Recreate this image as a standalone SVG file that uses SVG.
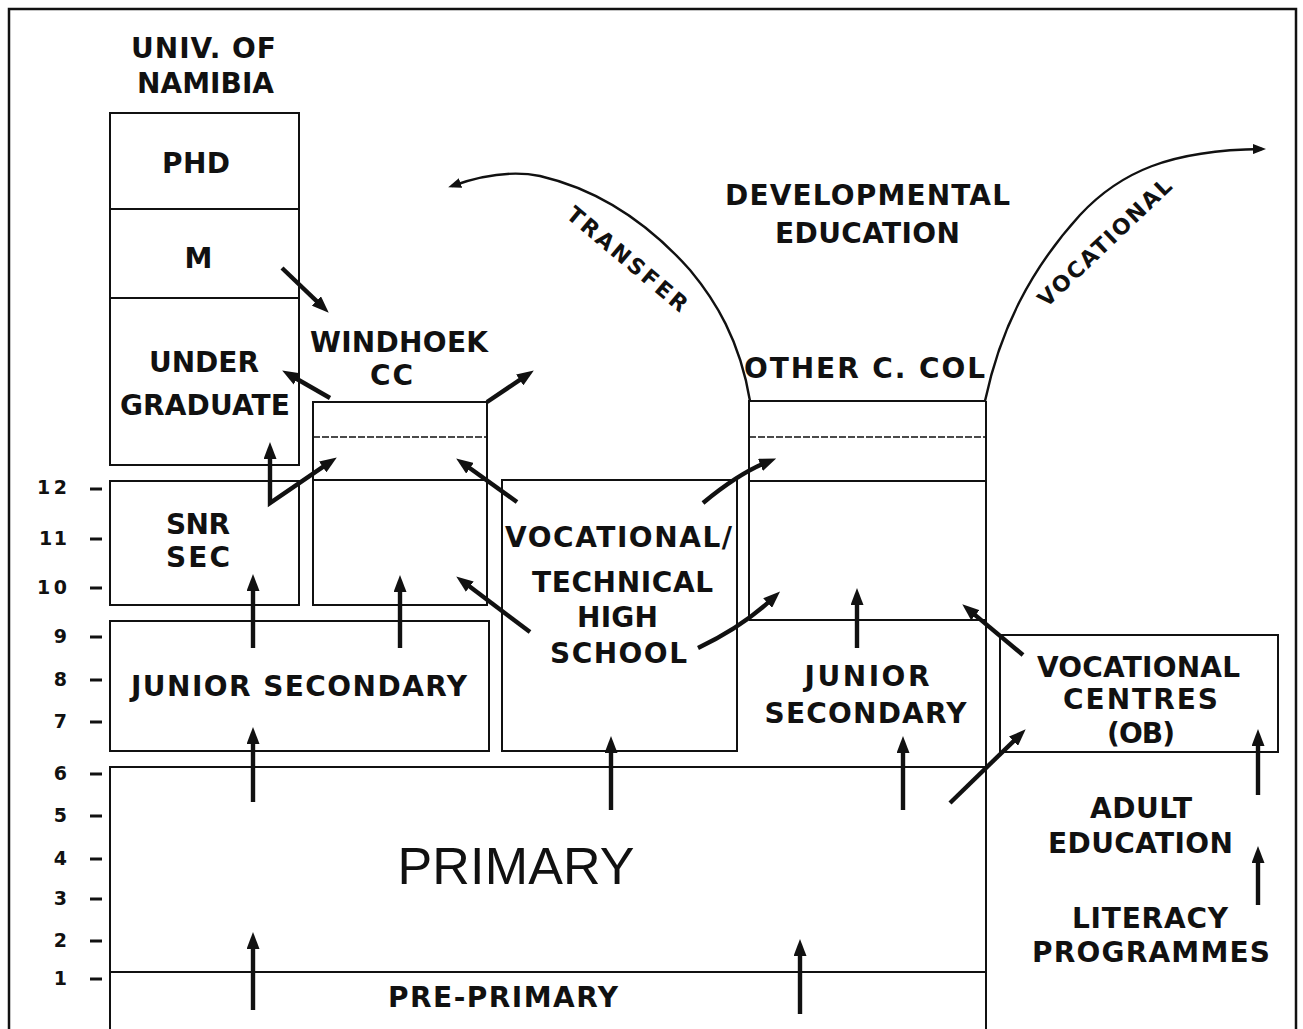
<svg xmlns="http://www.w3.org/2000/svg" width="1303" height="1029" viewBox="0 0 1303 1029">
<style>
.bx{fill:none;stroke:#111;stroke-width:2}
.dash{fill:none;stroke:#111;stroke-width:1.3;stroke-dasharray:7 2}
.t{font-family:"DejaVu Sans","Liberation Sans",Arial,sans-serif;font-weight:bold;font-size:28px;fill:#111;text-anchor:middle}
.n{font-family:"DejaVu Sans","Liberation Sans",Arial,sans-serif;font-weight:bold;font-size:19px;fill:#111;text-anchor:end}
.big{font-family:"Liberation Sans",Arial,sans-serif;font-weight:normal;font-size:52px;fill:#111;text-anchor:middle}
.arc{font-family:"DejaVu Sans","Liberation Sans",Arial,sans-serif;font-weight:bold;font-size:22px;fill:#111;text-anchor:middle}
.ar{fill:none;stroke:#111;stroke-width:4.4;marker-end:url(#ah)}
.cv{fill:none;stroke:#111;stroke-width:2.4;marker-end:url(#sh)}
.tick{stroke:#111;stroke-width:3}
</style>
<defs>
<marker id="ah" markerUnits="userSpaceOnUse" markerWidth="17" markerHeight="13" refX="6" refY="6.5" orient="auto-start-reverse">
<path d="M0,0 L17,6.5 L0,13 z" fill="#111"/>
</marker>
<marker id="sh" markerUnits="userSpaceOnUse" markerWidth="13" markerHeight="10" refX="9" refY="5" orient="auto">
<path d="M0,0 L13,5 L0,10 z" fill="#111"/>
</marker>
<path id="tpT" d="M545,200 L700,330"/>
<path id="tpV" d="M1030,324 L1190,172"/>
</defs>
<rect width="1303" height="1029" fill="#fff"/>
<g id="frame">
<path d="M9,1029 L9,9 L1296,9 L1296,1029" fill="none" stroke="#111" stroke-width="2.5"/>
</g>
<g id="scale">
<text class="n" x="67" y="494" textLength="30">12</text><line class="tick" x1="90" y1="489" x2="102" y2="489"/>
<text class="n" x="67" y="545" textLength="28">11</text><line class="tick" x1="90" y1="539" x2="102" y2="539"/>
<text class="n" x="67" y="594" textLength="30">10</text><line class="tick" x1="90" y1="588" x2="102" y2="588"/>
<text class="n" x="67" y="643">9</text><line class="tick" x1="90" y1="637" x2="102" y2="637"/>
<text class="n" x="67" y="686">8</text><line class="tick" x1="90" y1="680" x2="102" y2="680"/>
<text class="n" x="67" y="728">7</text><line class="tick" x1="90" y1="722" x2="102" y2="722"/>
<text class="n" x="67" y="780">6</text><line class="tick" x1="90" y1="774" x2="102" y2="774"/>
<text class="n" x="67" y="822">5</text><line class="tick" x1="90" y1="816" x2="102" y2="816"/>
<text class="n" x="67" y="865">4</text><line class="tick" x1="90" y1="859" x2="102" y2="859"/>
<text class="n" x="67" y="905">3</text><line class="tick" x1="90" y1="899" x2="102" y2="899"/>
<text class="n" x="67" y="947">2</text><line class="tick" x1="90" y1="941" x2="102" y2="941"/>
<text class="n" x="67" y="985">1</text><line class="tick" x1="90" y1="979" x2="102" y2="979"/>
</g>
<g id="univ-namibia">
<text class="t" x="203.5" y="58" textLength="145">UNIV. OF</text>
<text class="t" x="205.5" y="93" textLength="137">NAMIBIA</text>
<rect class="bx" x="110" y="113" width="189" height="352"/>
<line class="bx" x1="110" y1="209" x2="299" y2="209"/>
<line class="bx" x1="110" y1="298" x2="299" y2="298"/>
<text class="t" x="196" y="173" textLength="68">PHD</text>
<text class="t" x="198.5" y="268">M</text>
<text class="t" x="204" y="372" textLength="110">UNDER</text>
<text class="t" x="205" y="415" textLength="170">GRADUATE</text>
</g>
<g id="windhoek-cc">
<text class="t" x="399" y="352" textLength="178">WINDHOEK</text>
<text class="t" x="391.5" y="385" textLength="43">CC</text>
<rect class="bx" x="313" y="402" width="174" height="203"/>
<line class="dash" x1="313" y1="437" x2="487" y2="437"/>
<line class="bx" x1="313" y1="480" x2="487" y2="480"/>
</g>
<g id="snr-sec">
<rect class="bx" x="110" y="481" width="189" height="124"/>
<text class="t" x="198" y="534" textLength="64">SNR</text>
<text class="t" x="198" y="567" textLength="64">SEC</text>
</g>
<g id="junior-secondary-left">
<rect class="bx" x="110" y="621" width="379" height="130"/>
<text class="t" x="299" y="696" textLength="336">JUNIOR SECONDARY</text>
</g>
<g id="voc-tech-high-school">
<rect class="bx" x="502" y="480" width="235" height="271"/>
<text class="t" x="618.5" y="547" textLength="227">VOCATIONAL/</text>
<text class="t" x="622.5" y="592" textLength="181">TECHNICAL</text>
<text class="t" x="617.5" y="627" textLength="81">HIGH</text>
<text class="t" x="618.5" y="663" textLength="137">SCHOOL</text>
</g>
<g id="developmental-education">
<text class="t" x="867.5" y="205" textLength="285">DEVELOPMENTAL</text>
<text class="t" x="867.5" y="243" textLength="185">EDUCATION</text>
</g>
<g id="other-c-col">
<text class="t" x="864.5" y="378" textLength="241">OTHER C. COL</text>
<path class="bx" d="M749,620 L749,401 L986,401"/>
<line class="dash" x1="749" y1="437" x2="986" y2="437"/>
<line class="bx" x1="749" y1="481" x2="986" y2="481"/>
<line class="bx" x1="749" y1="620" x2="986" y2="620"/>
</g>
<g id="junior-secondary-right">
<text class="t" x="867" y="686" textLength="125">JUNIOR</text>
<text class="t" x="865.5" y="723" textLength="202">SECONDARY</text>
</g>
<g id="vocational-centres">
<rect class="bx" x="1000" y="635" width="278" height="117"/>
<text class="t" x="1138.5" y="677" textLength="203">VOCATIONAL</text>
<text class="t" x="1140.5" y="709" textLength="155">CENTRES</text>
<text class="t" x="1141" y="743" textLength="68">(OB)</text>
</g>
<g id="primary">
<path class="bx" d="M110,1029 L110,767 L986,767"/>
<line class="bx" x1="986" y1="401" x2="986" y2="1029"/>
<text class="big" x="516" y="884" textLength="237">PRIMARY</text>
</g>
<g id="pre-primary">
<line class="bx" x1="110" y1="972" x2="986" y2="972"/>
<text class="t" x="503" y="1007" textLength="230">PRE-PRIMARY</text>
</g>
<g id="adult-education">
<text class="t" x="1141" y="818" textLength="102">ADULT</text>
<text class="t" x="1140.5" y="853" textLength="185">EDUCATION</text>
</g>
<g id="literacy-programmes">
<text class="t" x="1150" y="928" textLength="156">LITERACY</text>
<text class="t" x="1151" y="962" textLength="238">PROGRAMMES</text>
</g>
<g id="connectors">
<path class="cv" d="M750,401 C740,340 715,300 690,270 C650,225 600,190 540,176 C510,170 480,176 452,186"/>
<path class="cv" d="M985,401 C1000,330 1030,270 1080,215 C1120,172 1170,150 1262,149"/>
<text class="arc"><textPath href="#tpT" startOffset="50%" textLength="150" lengthAdjust="spacing">TRANSFER</textPath></text>
<text class="arc"><textPath href="#tpV" startOffset="50%" textLength="175" lengthAdjust="spacing">VOCATIONAL</textPath></text>
<path class="ar" d="M282,268 L320.8,305.1"/>
<path class="ar" d="M330,398 L291.7,376"/>
<path class="ar" d="M487,402 L524.7,376.6"/>
<path class="ar" style="marker-start:url(#ah)" d="M270,453 L270,503 L327.7,463.6"/>
<path class="ar" d="M517,502 L465.1,464.8"/>
<path class="ar" d="M530,632 L465,583"/>
<path class="ar" d="M703,503 Q738,474 766,462.6"/>
<path class="ar" d="M698,648 Q742,627 772,599"/>
<path class="ar" d="M1023,655 L970.7,611.4"/>
<path class="ar" d="M950,803 L1017.8,737"/>
<path class="ar" d="M253,648 L253,585"/>
<path class="ar" d="M400,648 L400,586"/>
<path class="ar" d="M253,802 L253,738"/>
<path class="ar" d="M611,810 L611,747"/>
<path class="ar" d="M857,648 L857,599"/>
<path class="ar" d="M903,810 L903,747"/>
<path class="ar" d="M253,1010 L253,943"/>
<path class="ar" d="M800,1014 L800,950"/>
<path class="ar" d="M1258,795 L1258,740"/>
<path class="ar" d="M1258,905 L1258,857"/>
</g>
</svg>
